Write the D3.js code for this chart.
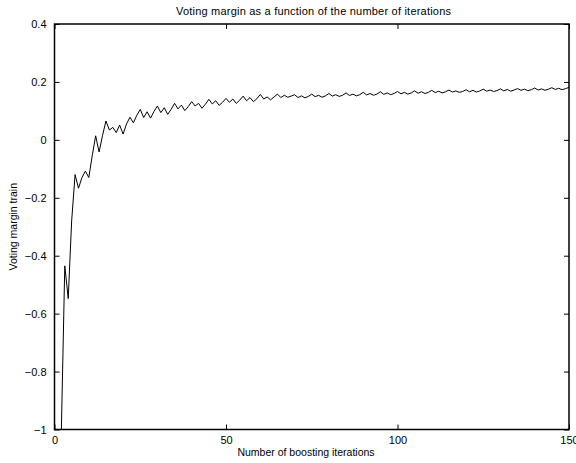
<!DOCTYPE html>
<html>
<head>
<meta charset="utf-8">
<script src="https://cdn.jsdelivr.net/npm/d3@7"></script>
<style>
  body { margin: 0; background: #fff; }
  svg { display: block; font-family: "Liberation Sans", Arial, Helvetica, sans-serif; }
</style>
</head>
<body>
<div id="chart"></div>
<script>
const title = 'Voting margin as a function of the number of iterations';
const xLabel = 'Number of boosting iterations';
const yLabel = 'Voting margin train';

const xTicks = [0, 50, 100, 150];
const yTicks = [-1, -0.8, -0.6, -0.4, -0.2, 0, 0.2, 0.4];

// first boosting iteration shown is 2
const startIteration = 2;
const margins = [
  -1.00, -0.435, -0.548, -0.28, -0.12, -0.167, -0.13, -0.108, -0.13,
  -0.055, 0.014, -0.042, 0.015, 0.065, 0.034, 0.043, 0.025, 0.051, 0.020,
  0.055, 0.078, 0.059, 0.085, 0.105, 0.077, 0.097, 0.075, 0.098, 0.117,
  0.094, 0.111, 0.088, 0.105, 0.126, 0.107, 0.120, 0.101, 0.115, 0.132,
  0.117, 0.126, 0.109, 0.123, 0.140, 0.124, 0.135, 0.119, 0.130, 0.143,
  0.130, 0.141, 0.126, 0.137, 0.151, 0.135, 0.146, 0.132, 0.142, 0.157,
  0.141, 0.148, 0.138, 0.148, 0.158, 0.146, 0.154, 0.147, 0.151, 0.156,
  0.146, 0.152, 0.145, 0.150, 0.158, 0.149, 0.154, 0.147, 0.152, 0.160,
  0.151, 0.156, 0.150, 0.154, 0.162, 0.153, 0.158, 0.152, 0.156, 0.164,
  0.155, 0.160, 0.154, 0.158, 0.166, 0.157, 0.162, 0.156, 0.160, 0.167,
  0.159, 0.164, 0.158, 0.162, 0.169, 0.161, 0.166, 0.160, 0.164, 0.171,
  0.163, 0.168, 0.162, 0.166, 0.172, 0.165, 0.169, 0.164, 0.167, 0.173,
  0.166, 0.171, 0.165, 0.169, 0.175, 0.168, 0.172, 0.167, 0.170, 0.176,
  0.169, 0.174, 0.168, 0.172, 0.177, 0.171, 0.175, 0.170, 0.173, 0.179,
  0.172, 0.176, 0.171, 0.175, 0.180, 0.174, 0.178, 0.173, 0.177, 0.181
];

const width = 576;
const height = 463;
const margin = { top: 24, right: 7, bottom: 33.5, left: 54.5 };

const svg = d3.select('#chart').append('svg')
  .attr('width', width)
  .attr('height', height);

const x = d3.scaleLinear().domain([0, 150]).range([margin.left, width - margin.right]);
const y = d3.scaleLinear().domain([-1, 0.4]).range([height - margin.bottom, margin.top]);

const data = margins.map((v, i) => ({ iter: startIteration + i, value: v }));

svg.append('clipPath').attr('id', 'plot-clip')
  .append('rect')
  .attr('x', x(0)).attr('y', y(0.4))
  .attr('width', x(150) - x(0)).attr('height', y(-1) - y(0.4));

// line
svg.append('path')
  .datum(data)
  .attr('clip-path', 'url(#plot-clip)')
  .attr('fill', 'none')
  .attr('stroke', '#000')
  .attr('stroke-width', 1)
  .attr('stroke-linejoin', 'round')
  .attr('d', d3.line().x(d => x(d.iter)).y(d => y(d.value)));

const fmt = d3.format('~g');
const tickLen = 5;

// axes, ticks pointing inward on all four sides
const styleAxis = g => {
  g.select('.domain').remove();
  g.selectAll('.tick line').attr('stroke', '#000').attr('stroke-width', 1);
  g.selectAll('.tick text').attr('fill', '#000').attr('font-size', 11);
};

svg.append('g')
  .attr('transform', `translate(0,${y(-1)})`)
  .call(d3.axisBottom(x).tickValues(xTicks).tickFormat(fmt).tickSizeInner(-tickLen).tickSizeOuter(0).tickPadding(7))
  .call(styleAxis)
  .attr('font-family', null);

svg.append('g')
  .attr('transform', `translate(0,${y(0.4)})`)
  .call(d3.axisTop(x).tickValues(xTicks).tickFormat('').tickSizeInner(-tickLen).tickSizeOuter(0))
  .call(styleAxis);

svg.append('g')
  .attr('transform', `translate(${x(0)},0)`)
  .call(d3.axisLeft(y).tickValues(yTicks).tickFormat(fmt).tickSizeInner(-tickLen).tickSizeOuter(0).tickPadding(8))
  .call(styleAxis)
  .attr('font-family', null);

svg.append('g')
  .attr('transform', `translate(${x(150)},0)`)
  .call(d3.axisRight(y).tickValues(yTicks).tickFormat('').tickSizeInner(-tickLen).tickSizeOuter(0))
  .call(styleAxis);

// box
svg.append('rect')
  .attr('x', x(0)).attr('y', y(0.4))
  .attr('width', x(150) - x(0)).attr('height', y(-1) - y(0.4))
  .attr('fill', 'none')
  .attr('stroke', '#000')
  .attr('stroke-width', 1.5);

// labels
svg.append('text')
  .attr('x', 313.5)
  .attr('y', 15)
  .attr('text-anchor', 'middle')
  .attr('font-size', 11)
  .attr('textLength', 275)
  .attr('lengthAdjust', 'spacing')
  .text(title);

svg.append('text')
  .attr('x', 306)
  .attr('y', 456)
  .attr('text-anchor', 'middle')
  .attr('font-size', 10.5)
  .text(xLabel);

svg.append('text')
  .attr('transform', `translate(17,${(y(-1) + y(0.4)) / 2}) rotate(-90)`)
  .attr('text-anchor', 'middle')
  .attr('font-size', 10.5)
  .text(yLabel);
</script>
</body>
</html>
